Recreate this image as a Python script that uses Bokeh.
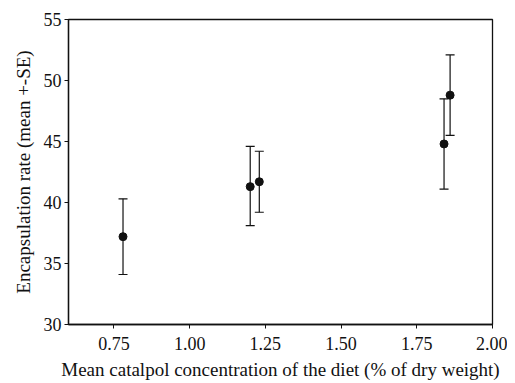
from bokeh.plotting import figure
from bokeh.models import ColumnDataSource, Whisker, TeeHead, FixedTicker, Range1d
from bokeh.embed import file_html
from bokeh.resources import INLINE

# Data
concentration = [0.78, 1.20, 1.23, 1.84, 1.86]
encapsulation = [37.2, 41.3, 41.7, 44.8, 48.8]
se_lower = [34.1, 38.1, 39.2, 41.1, 45.5]
se_upper = [40.3, 44.6, 44.2, 48.5, 52.1]

x_ticks = [0.75, 1.00, 1.25, 1.50, 1.75, 2.00]
x_tick_labels = ["0.75", "1.00", "1.25", "1.50", "1.75", "2.00"]
y_ticks = [30, 35, 40, 45, 50, 55]
y_tick_labels = ["30", "35", "40", "45", "50", "55"]

x_label = "Mean catalpol concentration of the diet (% of dry weight)"
y_label = "Encapsulation rate (mean +-SE)"

FONT = "Liberation Serif"
INK = "#111111"

source = ColumnDataSource(dict(x=concentration, y=encapsulation,
                               lower=se_lower, upper=se_upper))

p = figure(width=507, height=383, output_backend="svg", toolbar_location=None,
           x_range=Range1d(0.6, 2.0), y_range=Range1d(30, 55),
           min_border_left=68, min_border_right=15, min_border_top=19,
           min_border_bottom=59)

p.xgrid.visible = False
p.ygrid.visible = False
p.outline_line_color = INK
p.outline_line_width = 1.3
p.background_fill_color = "white"
p.border_fill_color = "white"

for ax, ticks, labels in ((p.xaxis[0], x_ticks, x_tick_labels),
                          (p.yaxis[0], y_ticks, y_tick_labels)):
    ax.ticker = FixedTicker(ticks=ticks)
    ax.major_label_overrides = {t: l for t, l in zip(ticks, labels)}
    ax.minor_tick_line_color = None
    ax.major_tick_in = 0
    ax.major_tick_out = 4
    ax.major_tick_line_color = INK
    ax.axis_line_color = INK
    ax.axis_line_width = 1.3
    ax.major_label_text_font = FONT
    ax.major_label_text_font_size = "18px"
    ax.major_label_text_color = INK
    ax.axis_label_text_font = FONT
    ax.axis_label_text_font_size = "19px"
    ax.axis_label_text_font_style = "normal"
    ax.axis_label_text_color = INK

p.xaxis.axis_label = x_label
p.yaxis.axis_label = y_label
p.xaxis.major_label_standoff = 8
p.yaxis.major_label_standoff = 3
p.xaxis.axis_label_standoff = 6
p.yaxis.axis_label_standoff = 7

whisker = Whisker(source=source, base="x", lower="lower", upper="upper",
                  line_color=INK, line_width=1.2,
                  upper_head=TeeHead(size=9, line_color=INK, line_width=1.2),
                  lower_head=TeeHead(size=9, line_color=INK, line_width=1.2))
p.add_layout(whisker)

p.scatter("x", "y", source=source, size=8, color=INK)

open("out.html", "w").write(file_html(p, INLINE))
